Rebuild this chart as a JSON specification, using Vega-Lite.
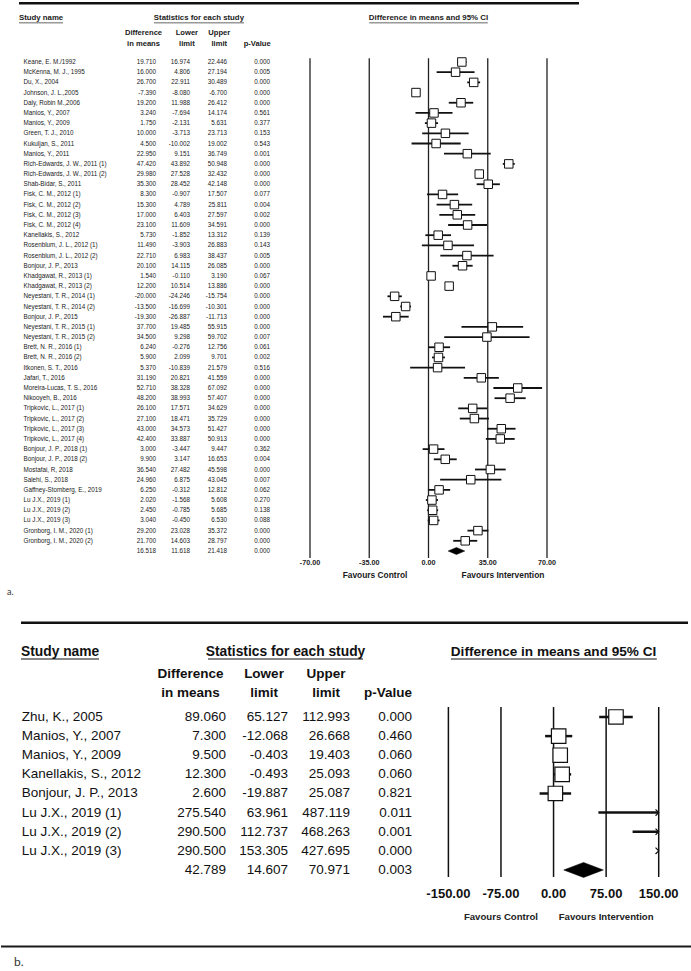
{
"$schema":"https://vega.github.io/schema/vega-lite/v6.json",
"padding":0,"background":"white","spacing":0,"bounds":"flush",
"config":{"view":{"stroke":null},"axis":{"disable":true},"text":{"font":"Liberation Sans"},
"locale":{"number":{"decimal":".","thousands":",","grouping":[3],"currency":["$",""],"minus":"-"}}},
"datasets":{
"a":[
{"name":"Keane, E. M./1992","type":"study","d":19.71,"lo":16.974,"hi":22.446,"p":0},
{"name":"McKenna, M. J., 1995","type":"study","d":16.0,"lo":4.806,"hi":27.194,"p":0.005},
{"name":"Du, X., 2004","type":"study","d":26.7,"lo":22.911,"hi":30.489,"p":0},
{"name":"Johnson, J. L.,2005","type":"study","d":-7.39,"lo":-8.08,"hi":-6.7,"p":0},
{"name":"Daly, Robin M.,2006","type":"study","d":19.2,"lo":11.988,"hi":26.412,"p":0},
{"name":"Manios, Y., 2007","type":"study","d":3.24,"lo":-7.694,"hi":14.174,"p":0.561},
{"name":"Manios, Y., 2009","type":"study","d":1.75,"lo":-2.131,"hi":5.631,"p":0.377},
{"name":"Green, T. J., 2010","type":"study","d":10.0,"lo":-3.713,"hi":23.713,"p":0.153},
{"name":"Kukuljan, S., 2011","type":"study","d":4.5,"lo":-10.002,"hi":19.002,"p":0.543},
{"name":"Manios, Y., 2011","type":"study","d":22.95,"lo":9.151,"hi":36.749,"p":0.001},
{"name":"Rich-Edwards, J. W., 2011 (1)","type":"study","d":47.42,"lo":43.892,"hi":50.948,"p":0},
{"name":"Rich-Edwards, J. W., 2011 (2)","type":"study","d":29.98,"lo":27.528,"hi":32.432,"p":0},
{"name":"Shab-Bidar, S., 2011","type":"study","d":35.3,"lo":28.452,"hi":42.148,"p":0},
{"name":"Fisk, C. M., 2012 (1)","type":"study","d":8.3,"lo":-0.907,"hi":17.507,"p":0.077},
{"name":"Fisk, C. M., 2012 (2)","type":"study","d":15.3,"lo":4.789,"hi":25.811,"p":0.004},
{"name":"Fisk, C. M., 2012 (3)","type":"study","d":17.0,"lo":6.403,"hi":27.597,"p":0.002},
{"name":"Fisk, C. M., 2012 (4)","type":"study","d":23.1,"lo":11.609,"hi":34.591,"p":0},
{"name":"Kanellakis, S., 2012","type":"study","d":5.73,"lo":-1.852,"hi":13.312,"p":0.139},
{"name":"Rosenblum, J. L., 2012 (1)","type":"study","d":11.49,"lo":-3.903,"hi":26.883,"p":0.143},
{"name":"Rosenblum, J. L., 2012 (2)","type":"study","d":22.71,"lo":6.983,"hi":38.437,"p":0.005},
{"name":"Bonjour, J. P., 2013","type":"study","d":20.1,"lo":14.115,"hi":26.085,"p":0},
{"name":"Khadgawat, R., 2013 (1)","type":"study","d":1.54,"lo":-0.11,"hi":3.19,"p":0.067},
{"name":"Khadgawat, R., 2013 (2)","type":"study","d":12.2,"lo":10.514,"hi":13.886,"p":0},
{"name":"Neyestani, T. R., 2014 (1)","type":"study","d":-20.0,"lo":-24.246,"hi":-15.754,"p":0},
{"name":"Neyestani, T. R., 2014 (2)","type":"study","d":-13.5,"lo":-16.699,"hi":-10.301,"p":0},
{"name":"Bonjour, J. P., 2015","type":"study","d":-19.3,"lo":-26.887,"hi":-11.713,"p":0},
{"name":"Neyestani, T. R., 2015 (1)","type":"study","d":37.7,"lo":19.485,"hi":55.915,"p":0},
{"name":"Neyestani, T. R., 2015 (2)","type":"study","d":34.5,"lo":9.298,"hi":59.702,"p":0.007},
{"name":"Brett, N. R., 2016 (1)","type":"study","d":6.24,"lo":-0.276,"hi":12.756,"p":0.061},
{"name":"Brett, N. R., 2016 (2)","type":"study","d":5.9,"lo":2.099,"hi":9.701,"p":0.002},
{"name":"Itkonen, S. T., 2016","type":"study","d":5.37,"lo":-10.839,"hi":21.579,"p":0.516},
{"name":"Jafari, T., 2016","type":"study","d":31.19,"lo":20.821,"hi":41.559,"p":0},
{"name":"Moreira-Lucas, T. S., 2016","type":"study","d":52.71,"lo":38.328,"hi":67.092,"p":0},
{"name":"Nikooyeh, B., 2016","type":"study","d":48.2,"lo":38.993,"hi":57.407,"p":0},
{"name":"Tripkovic, L., 2017 (1)","type":"study","d":26.1,"lo":17.571,"hi":34.629,"p":0},
{"name":"Tripkovic, L., 2017 (2)","type":"study","d":27.1,"lo":18.471,"hi":35.729,"p":0},
{"name":"Tripkovic, L., 2017 (3)","type":"study","d":43.0,"lo":34.573,"hi":51.427,"p":0},
{"name":"Tripkovic, L., 2017 (4)","type":"study","d":42.4,"lo":33.887,"hi":50.913,"p":0},
{"name":"Bonjour, J. P., 2018 (1)","type":"study","d":3.0,"lo":-3.447,"hi":9.447,"p":0.362},
{"name":"Bonjour, J. P., 2018 (2)","type":"study","d":9.9,"lo":3.147,"hi":16.653,"p":0.004},
{"name":"Mostafai, R, 2018","type":"study","d":36.54,"lo":27.482,"hi":45.598,"p":0},
{"name":"Salehi, S., 2018","type":"study","d":24.96,"lo":6.875,"hi":43.045,"p":0.007},
{"name":"Gaffney-Stomberg, E., 2019","type":"study","d":6.25,"lo":-0.312,"hi":12.812,"p":0.062},
{"name":"Lu J.X., 2019 (1)","type":"study","d":2.02,"lo":-1.568,"hi":5.608,"p":0.27},
{"name":"Lu J.X., 2019 (2)","type":"study","d":2.45,"lo":-0.785,"hi":5.685,"p":0.138},
{"name":"Lu J.X., 2019 (3)","type":"study","d":3.04,"lo":-0.45,"hi":6.53,"p":0.088},
{"name":"Gronborg, I. M., 2020 (1)","type":"study","d":29.2,"lo":23.028,"hi":35.372,"p":0},
{"name":"Gronborg, I. M., 2020 (2)","type":"study","d":21.7,"lo":14.603,"hi":28.797,"p":0},
{"name":"Summary","type":"summary","d":16.518,"lo":11.618,"hi":21.418,"p":0}
],
"ta":[{"t":-70},{"t":-35},{"t":0},{"t":35},{"t":70}],
"b":[
{"name":"Zhu, K., 2005","type":"study","d":89.06,"lo":65.127,"hi":112.993,"p":0},
{"name":"Manios, Y., 2007","type":"study","d":7.3,"lo":-12.068,"hi":26.668,"p":0.46},
{"name":"Manios, Y., 2009","type":"study","d":9.5,"lo":-0.403,"hi":19.403,"p":0.06},
{"name":"Kanellakis, S., 2012","type":"study","d":12.3,"lo":-0.493,"hi":25.093,"p":0.06},
{"name":"Bonjour, J. P., 2013","type":"study","d":2.6,"lo":-19.887,"hi":25.087,"p":0.821},
{"name":"Lu J.X., 2019 (1)","type":"study","d":275.54,"lo":63.961,"hi":487.119,"p":0.011},
{"name":"Lu J.X., 2019 (2)","type":"study","d":290.5,"lo":112.737,"hi":468.263,"p":0.001},
{"name":"Lu J.X., 2019 (3)","type":"study","d":290.5,"lo":153.305,"hi":427.695,"p":0},
{"name":"Summary","type":"summary","d":42.789,"lo":14.607,"hi":70.971,"p":0.003}
],
"tb":[{"t":-150},{"t":-75},{"t":0},{"t":75},{"t":150}]
},
"vconcat":[
{
"width":691,"height":613,
"resolve":{"scale":{"x":"independent"}},
"layer":[
{"layer":[
{"data":{"name":"a"},"transform":[{"filter":"datum.type=='study'"}],
"mark":{"type":"text","align":"left","baseline":"middle","dx":-16.8,"fontSize":6.3,"color":"#1a1a1a"},
"encoding":{
"x":{"datum":"name","type":"nominal","scale":{"type":"point","domain":["name","c1","c2","diff","lower","upper","p"],"range":[39.3,266.7],"padding":0}},
"y":{"field":"name","type":"nominal","scale":{"type":"point","padding":0,"range":[21.25,591.75],"domain":["title","h1","h2","gap","Keane, E. M./1992","McKenna, M. J., 1995","Du, X., 2004","Johnson, J. L.,2005","Daly, Robin M.,2006","Manios, Y., 2007","Manios, Y., 2009","Green, T. J., 2010","Kukuljan, S., 2011","Manios, Y., 2011","Rich-Edwards, J. W., 2011 (1)","Rich-Edwards, J. W., 2011 (2)","Shab-Bidar, S., 2011","Fisk, C. M., 2012 (1)","Fisk, C. M., 2012 (2)","Fisk, C. M., 2012 (3)","Fisk, C. M., 2012 (4)","Kanellakis, S., 2012","Rosenblum, J. L., 2012 (1)","Rosenblum, J. L., 2012 (2)","Bonjour, J. P., 2013","Khadgawat, R., 2013 (1)","Khadgawat, R., 2013 (2)","Neyestani, T. R., 2014 (1)","Neyestani, T. R., 2014 (2)","Bonjour, J. P., 2015","Neyestani, T. R., 2015 (1)","Neyestani, T. R., 2015 (2)","Brett, N. R., 2016 (1)","Brett, N. R., 2016 (2)","Itkonen, S. T., 2016","Jafari, T., 2016","Moreira-Lucas, T. S., 2016","Nikooyeh, B., 2016","Tripkovic, L., 2017 (1)","Tripkovic, L., 2017 (2)","Tripkovic, L., 2017 (3)","Tripkovic, L., 2017 (4)","Bonjour, J. P., 2018 (1)","Bonjour, J. P., 2018 (2)","Mostafai, R, 2018","Salehi, S., 2018","Gaffney-Stomberg, E., 2019","Lu J.X., 2019 (1)","Lu J.X., 2019 (2)","Lu J.X., 2019 (3)","Gronborg, I. M., 2020 (1)","Gronborg, I. M., 2020 (2)","Summary","ticks","fav","blank","alabel"]}},
"text":{"field":"name"}}},
{"data":{"name":"a"},"mark":{"type":"text","align":"right","baseline":"middle","dx":2,"fontSize":6.3,"color":"#1a1a1a"},
"encoding":{"x":{"datum":"diff","type":"nominal"},"y":{"field":"name","type":"nominal"},"text":{"field":"d","type":"quantitative","format":".3f"}}},
{"data":{"name":"a"},"mark":{"type":"text","align":"right","baseline":"middle","dx":-1.9,"fontSize":6.3,"color":"#1a1a1a"},
"encoding":{"x":{"datum":"lower","type":"nominal"},"y":{"field":"name","type":"nominal"},"text":{"field":"lo","type":"quantitative","format":".3f"}}},
{"data":{"name":"a"},"mark":{"type":"text","align":"right","baseline":"middle","dx":-2.8,"fontSize":6.3,"color":"#1a1a1a"},
"encoding":{"x":{"datum":"upper","type":"nominal"},"y":{"field":"name","type":"nominal"},"text":{"field":"hi","type":"quantitative","format":".3f"}}},
{"data":{"name":"a"},"mark":{"type":"text","align":"right","baseline":"middle","dx":2.3,"fontSize":6.3,"color":"#1a1a1a"},
"encoding":{"x":{"datum":"p","type":"nominal"},"y":{"field":"name","type":"nominal"},"text":{"field":"p","type":"quantitative","format":".3f"}}},
{"data":{"values":[{"col":"diff","row":"h1","text":"Difference"},{"col":"diff","row":"h2","text":"in means"},{"col":"upper","row":"h1","text":"Upper"},{"col":"upper","row":"h2","text":"limit"},{"col":"p","row":"h2","text":"p-Value"}]},
"mark":{"type":"text","align":"center","baseline":"middle","dx":-10.5,"dy":2,"fontSize":7.6,"fontWeight":"bold","color":"#1a1a1a"},
"encoding":{"x":{"field":"col","type":"nominal"},"y":{"field":"row","type":"nominal"},"text":{"field":"text"}}},
{"data":{"values":[{"col":"lower","row":"h1","text":"Lower"},{"col":"lower","row":"h2","text":"limit"}]},
"mark":{"type":"text","align":"center","baseline":"middle","dx":-5,"dy":2,"fontSize":7.6,"fontWeight":"bold","color":"#1a1a1a"},
"encoding":{"x":{"field":"col","type":"nominal"},"y":{"field":"row","type":"nominal"},"text":{"field":"text"}}},
{"data":{"values":[{}]},"mark":{"type":"text","align":"left","baseline":"middle","dx":-21.3,"dy":-3.2,"fontSize":7.8,"fontWeight":"bold","color":"#1a1a1a"},
"encoding":{"x":{"datum":"name","type":"nominal"},"y":{"datum":"title","type":"nominal"},"text":{"value":"Study name"}}},
{"data":{"values":[{}]},"mark":{"type":"text","align":"center","baseline":"middle","dx":7,"dy":-3.2,"fontSize":7.8,"fontWeight":"bold","color":"#1a1a1a"},
"encoding":{"x":{"datum":"lower","type":"nominal"},"y":{"datum":"title","type":"nominal"},"text":{"value":"Statistics for each study"}}},
{"data":{"values":[{}]},"mark":{"type":"rule","color":"#222","strokeWidth":0.7,"xOffset":-21.3,"x2Offset":22.7,"yOffset":1.6},
"encoding":{"x":{"datum":"name","type":"nominal"},"x2":{"datum":"name"},"y":{"datum":"title","type":"nominal"}}},
{"data":{"values":[{}]},"mark":{"type":"rule","color":"#222","strokeWidth":0.7,"xOffset":-37.9,"x2Offset":52.1,"yOffset":1.6},
"encoding":{"x":{"datum":"lower","type":"nominal"},"x2":{"datum":"lower"},"y":{"datum":"title","type":"nominal"}}},
{"data":{"values":[{}]},"mark":{"type":"rule","color":"#111","strokeWidth":2.5,"xOffset":-21.3,"x2Offset":311.3,"yOffset":-18},
"encoding":{"x":{"datum":"name","type":"nominal"},"x2":{"datum":"p"},"y":{"datum":"title","type":"nominal"}}},
{"data":{"values":[{}]},"mark":{"type":"text","align":"left","baseline":"middle","dx":-33.3,"fontSize":9,"color":"#333","font":"Lato"},
"encoding":{"x":{"datum":"name","type":"nominal"},"y":{"datum":"alabel","type":"nominal"},"text":{"value":"a."}}}
]},
{"layer":[
{"data":{"name":"ta"},"mark":{"type":"rule","color":"#222","strokeWidth":1.3,"yOffset":-3.7,"y2Offset":7},
"encoding":{"x":{"field":"t","type":"quantitative","scale":{"domain":[-70,70],"range":[309,546],"nice":false,"zero":false}},"y":{"datum":"Keane, E. M./1992","type":"nominal"},"y2":{"datum":"Summary"}}},
{"data":{"name":"a"},"transform":[{"filter":"datum.type=='study'"}],"mark":{"type":"rule","color":"#111","strokeWidth":1.8},
"encoding":{"x":{"field":"lo","type":"quantitative"},"x2":{"field":"hi"},"y":{"field":"name","type":"nominal"}}},
{"data":{"name":"a"},"transform":[{"filter":"datum.type=='study'"}],"mark":{"type":"point","shape":"square","filled":true,"fill":"white","stroke":"#111","strokeWidth":1,"size":72,"opacity":1},
"encoding":{"x":{"field":"d","type":"quantitative"},"y":{"field":"name","type":"nominal"}}},
{"data":{"name":"a"},"transform":[{"filter":"datum.type=='summary'"}],"mark":{"type":"point","shape":"M-1,0L0,-0.43L1,0L0,0.43Z","filled":true,"fill":"black","stroke":"black","strokeWidth":0.5,"size":276,"opacity":1},
"encoding":{"x":{"field":"d","type":"quantitative"},"y":{"field":"name","type":"nominal"}}},
{"data":{"name":"ta"},"mark":{"type":"text","align":"center","baseline":"middle","dy":1.5,"fontSize":7.2,"fontWeight":"bold","color":"#1a1a1a"},
"encoding":{"x":{"field":"t","type":"quantitative"},"y":{"datum":"ticks","type":"nominal"},"text":{"field":"t","type":"quantitative","format":".2f"}}},
{"data":{"values":[{}]},"mark":{"type":"text","align":"center","baseline":"middle","dy":3.5,"fontSize":8.4,"fontWeight":"bold","color":"#1a1a1a"},
"encoding":{"x":{"datum":-31.6,"type":"quantitative"},"y":{"datum":"fav","type":"nominal"},"text":{"value":"Favours Control"}}},
{"data":{"values":[{}]},"mark":{"type":"text","align":"center","baseline":"middle","dy":3.5,"fontSize":8.4,"fontWeight":"bold","color":"#1a1a1a"},
"encoding":{"x":{"datum":44,"type":"quantitative"},"y":{"datum":"fav","type":"nominal"},"text":{"value":"Favours Intervention"}}},
{"data":{"values":[{}]},"mark":{"type":"text","align":"center","baseline":"middle","dy":-3.2,"fontSize":7.9,"fontWeight":"bold","color":"#1a1a1a"},
"encoding":{"x":{"datum":0,"type":"quantitative"},"y":{"datum":"title","type":"nominal"},"text":{"value":"Difference in means and 95% CI"}}},
{"data":{"values":[{}]},"mark":{"type":"rule","color":"#222","strokeWidth":0.7,"yOffset":1.6},
"encoding":{"x":{"datum":-35,"type":"quantitative"},"x2":{"datum":35},"y":{"datum":"title","type":"nominal"}}}
]}
]
},
{
"width":691,"height":358,
"resolve":{"scale":{"x":"independent"}},
"layer":[
{"layer":[
{"data":{"name":"b"},"transform":[{"filter":"datum.type=='study'"}],
"mark":{"type":"text","align":"left","baseline":"middle","dx":-18.3,"fontSize":13.5,"color":"#111"},
"encoding":{
"x":{"datum":"name","type":"nominal","scale":{"type":"point","domain":["name","c1","c2","diff","lower","upper","p"],"range":[39,411],"padding":0}},
"y":{"field":"name","type":"nominal","scale":{"type":"point","padding":0,"range":[46.6,333.475],"domain":["title","h1","h2","Zhu, K., 2005","Manios, Y., 2007","Manios, Y., 2009","Kanellakis, S., 2012","Bonjour, J. P., 2013","Lu J.X., 2019 (1)","Lu J.X., 2019 (2)","Lu J.X., 2019 (3)","Summary","ticks","fav","bline","blabel"]}},
"text":{"field":"name"}}},
{"data":{"name":"b"},"mark":{"type":"text","align":"right","baseline":"middle","fontSize":13.5,"color":"#111"},
"encoding":{"x":{"datum":"diff","type":"nominal"},"y":{"field":"name","type":"nominal"},"text":{"field":"d","type":"quantitative","format":".3f"}}},
{"data":{"name":"b"},"mark":{"type":"text","align":"right","baseline":"middle","fontSize":13.5,"color":"#111"},
"encoding":{"x":{"datum":"lower","type":"nominal"},"y":{"field":"name","type":"nominal"},"text":{"field":"lo","type":"quantitative","format":".3f"}}},
{"data":{"name":"b"},"mark":{"type":"text","align":"right","baseline":"middle","fontSize":13.5,"color":"#111"},
"encoding":{"x":{"datum":"upper","type":"nominal"},"y":{"field":"name","type":"nominal"},"text":{"field":"hi","type":"quantitative","format":".3f"}}},
{"data":{"name":"b"},"mark":{"type":"text","align":"right","baseline":"middle","fontSize":13.5,"color":"#111"},
"encoding":{"x":{"datum":"p","type":"nominal"},"y":{"field":"name","type":"nominal"},"text":{"field":"p","type":"quantitative","format":".3f"}}},
{"data":{"values":[{"col":"diff","row":"h1","text":"Difference"},{"col":"diff","row":"h2","text":"in means"}]},
"mark":{"type":"text","align":"center","baseline":"middle","dx":-35.5,"dy":-4.8,"fontSize":13.5,"fontWeight":"bold","color":"#111"},
"encoding":{"x":{"field":"col","type":"nominal"},"y":{"field":"row","type":"nominal"},"text":{"field":"text"}}},
{"data":{"values":[{"col":"lower","row":"h1","text":"Lower"},{"col":"lower","row":"h2","text":"limit"},{"col":"upper","row":"h1","text":"Upper"},{"col":"upper","row":"h2","text":"limit"},{"col":"p","row":"h2","text":"p-Value"}]},
"mark":{"type":"text","align":"center","baseline":"middle","dx":-24,"dy":-4.8,"fontSize":13.5,"fontWeight":"bold","color":"#111"},
"encoding":{"x":{"field":"col","type":"nominal"},"y":{"field":"row","type":"nominal"},"text":{"field":"text"}}},
{"data":{"values":[{}]},"mark":{"type":"text","align":"left","baseline":"middle","dx":-19,"dy":-8.1,"fontSize":13.8,"fontWeight":"bold","color":"#111"},
"encoding":{"x":{"datum":"name","type":"nominal"},"y":{"datum":"title","type":"nominal"},"text":{"value":"Study name"}}},
{"data":{"values":[{}]},"mark":{"type":"text","align":"center","baseline":"middle","dx":-2.5,"dy":-8.1,"fontSize":13.8,"fontWeight":"bold","color":"#111"},
"encoding":{"x":{"datum":"lower","type":"nominal"},"y":{"datum":"title","type":"nominal"},"text":{"value":"Statistics for each study"}}},
{"data":{"values":[{}]},"mark":{"type":"rule","color":"#111","strokeWidth":1.2,"xOffset":-19,"x2Offset":59,"yOffset":-0.6},
"encoding":{"x":{"datum":"name","type":"nominal"},"x2":{"datum":"name"},"y":{"datum":"title","type":"nominal"}}},
{"data":{"values":[{}]},"mark":{"type":"rule","color":"#111","strokeWidth":1.2,"xOffset":-80,"x2Offset":75,"yOffset":-0.6},
"encoding":{"x":{"datum":"lower","type":"nominal"},"x2":{"datum":"lower"},"y":{"datum":"title","type":"nominal"}}},
{"data":{"values":[{}]},"mark":{"type":"rule","color":"#111","strokeWidth":2.5,"xOffset":-19,"x2Offset":276,"yOffset":-36.9},
"encoding":{"x":{"datum":"name","type":"nominal"},"x2":{"datum":"p"},"y":{"datum":"title","type":"nominal"}}},
{"data":{"values":[{}]},"mark":{"type":"rule","color":"#1a1a1a","strokeWidth":2},
"encoding":{"y":{"datum":"blabel","type":"nominal"}}},
{"data":{"values":[{}]},"mark":{"type":"text","align":"left","baseline":"middle","dx":-26,"dy":15.5,"fontSize":12,"color":"#333","font":"Lato"},
"encoding":{"x":{"datum":"name","type":"nominal"},"y":{"datum":"blabel","type":"nominal"},"text":{"value":"b."}}}
]},
{"layer":[
{"data":{"name":"tb"},"mark":{"type":"rule","color":"#111","strokeWidth":1.5,"yOffset":-10,"y2Offset":7},
"encoding":{"x":{"field":"t","type":"quantitative","scale":{"domain":[-150,150],"range":[447.4,657.7],"nice":false,"zero":false,"clamp":true}},"y":{"datum":"Zhu, K., 2005","type":"nominal"},"y2":{"datum":"Summary"}}},
{"data":{"name":"b"},"transform":[{"filter":"datum.type=='study'"}],"mark":{"type":"rule","color":"#111","strokeWidth":2.5},
"encoding":{"x":{"field":"lo","type":"quantitative"},"x2":{"field":"hi"},"y":{"field":"name","type":"nominal"}}},
{"data":{"name":"b"},"transform":[{"filter":"datum.type=='study' && datum.hi > 150"}],"mark":{"type":"point","shape":"M-1,-1L0,0L-1,1","filled":false,"stroke":"#111","strokeWidth":1.2,"size":40,"opacity":1},
"encoding":{"x":{"field":"hi","type":"quantitative"},"y":{"field":"name","type":"nominal"}}},
{"data":{"name":"b"},"transform":[{"filter":"datum.type=='study' && datum.d <= 150"}],"mark":{"type":"point","shape":"square","filled":true,"fill":"white","stroke":"#111","strokeWidth":1.2,"size":210,"opacity":1},
"encoding":{"x":{"field":"d","type":"quantitative"},"y":{"field":"name","type":"nominal"}}},
{"data":{"name":"b"},"transform":[{"filter":"datum.type=='summary'"}],"mark":{"type":"point","shape":"M-1,0L0,-0.38L1,0L0,0.38Z","filled":true,"fill":"black","stroke":"black","strokeWidth":0.5,"size":1568,"opacity":1},
"encoding":{"x":{"field":"d","type":"quantitative"},"y":{"field":"name","type":"nominal"}}},
{"data":{"name":"tb"},"mark":{"type":"text","align":"center","baseline":"middle","dy":4.9,"fontSize":13,"fontWeight":"bold","color":"#111"},
"encoding":{"x":{"field":"t","type":"quantitative"},"y":{"datum":"ticks","type":"nominal"},"text":{"field":"t","type":"quantitative","format":".2f"}}},
{"data":{"values":[{}]},"mark":{"type":"text","align":"center","baseline":"middle","dy":8.8,"fontSize":9.6,"fontWeight":"bold","color":"#222"},
"encoding":{"x":{"datum":-75,"type":"quantitative"},"y":{"datum":"fav","type":"nominal"},"text":{"value":"Favours Control"}}},
{"data":{"values":[{}]},"mark":{"type":"text","align":"center","baseline":"middle","dy":8.8,"fontSize":9.6,"fontWeight":"bold","color":"#222"},
"encoding":{"x":{"datum":75,"type":"quantitative"},"y":{"datum":"fav","type":"nominal"},"text":{"value":"Favours Intervention"}}},
{"data":{"values":[{}]},"mark":{"type":"text","align":"center","baseline":"middle","dy":-8.1,"fontSize":13.6,"fontWeight":"bold","color":"#111"},
"encoding":{"x":{"datum":0,"type":"quantitative"},"y":{"datum":"title","type":"nominal"},"text":{"value":"Difference in means and 95% CI"}}},
{"data":{"values":[{}]},"mark":{"type":"rule","color":"#111","strokeWidth":1.2,"yOffset":-0.6},
"encoding":{"x":{"datum":-146.4,"type":"quantitative"},"x2":{"datum":147.3},"y":{"datum":"title","type":"nominal"}}}
]}
]
}
]
}
